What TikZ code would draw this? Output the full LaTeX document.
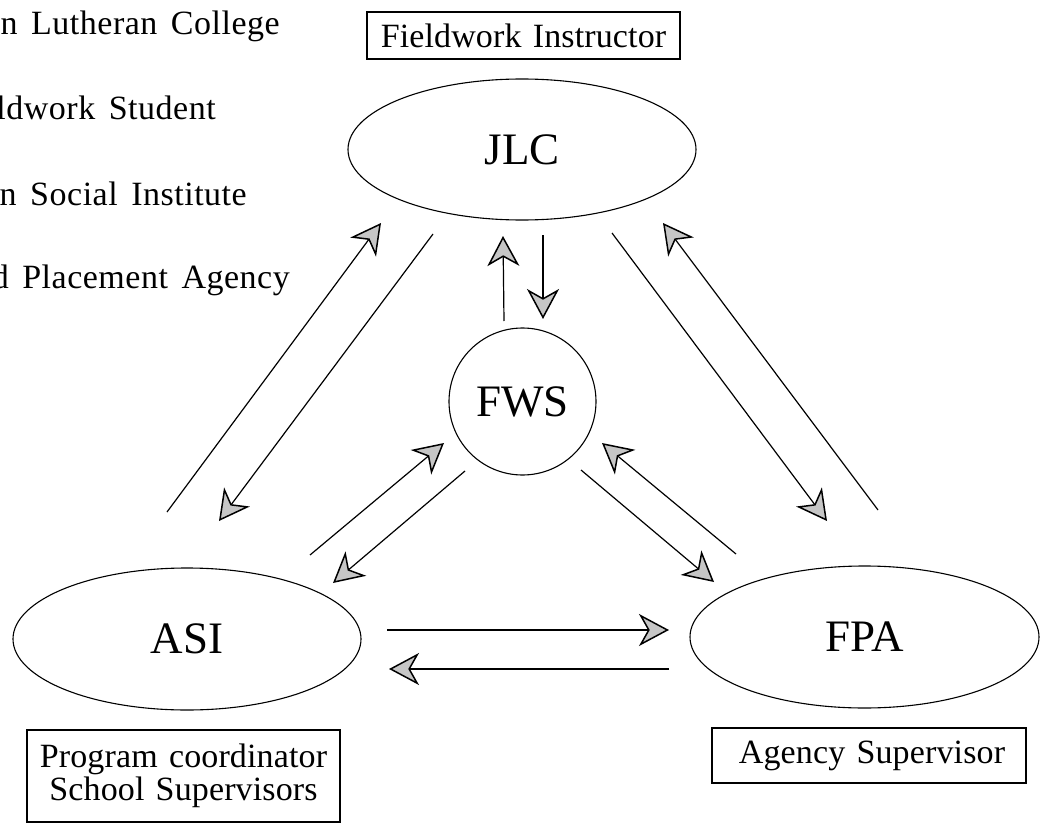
\documentclass[tikz,border=0pt]{standalone}
\usepackage{fontspec}
\setmainfont{Liberation Serif}
\newfontfamily\legendfam[LetterSpace=1.5,WordSpace=1.5]{Liberation Serif}
\newfontfamily\boxfam[LetterSpace=0.4,WordSpace=1.3]{Liberation Serif}
\usetikzlibrary{arrows.meta,shapes.geometric}
\newcommand{\bigfont}{\fontsize{45}{54}\selectfont}
\newcommand{\smallfont}{\boxfam\fontsize{34}{33}\selectfont}
\newcommand{\legendfont}{\legendfam\fontsize{34}{33}\selectfont}
\begin{document}
\begin{tikzpicture}[x=1pt,y=-1pt,
  oval/.style={draw,ellipse,line width=1.1pt,inner sep=0pt,font=\bigfont},
  circ/.style={draw,circle,line width=1.1pt,inner sep=0pt,font=\bigfont},
  rolebox/.style={draw,rectangle,line width=1.1pt,inner sep=0pt,align=center,font=\smallfont},
  legend/.style={anchor=base east,inner sep=0pt,font=\legendfont},
  flow/.style={line width=1.2pt,-{Stealth[length=30pt,width=32pt,inset=9pt,fill=gray!45,line width=1.5pt]}}
]
\useasboundingbox (0,0) rectangle (1042,824);
\clip (0,0) rectangle (1042,824);
\fill[white] (0,0) rectangle (1042,824);

% legend (clipped at left edge, as in the reference)
\node[legend] (l1) at (280,35) {Japan Lutheran College};
\node[legend] (l2) at (216,120) {Fieldwork Student};
\node[legend] (l3) at (247,205) {Asian Social Institute};
\node[legend] (l4) at (290,288) {Field Placement Agency};

% main nodes
\node[oval,minimum width=348pt,minimum height=141pt] (JLC) at (522,149.5) {JLC};
\node[circ,minimum size=147pt] (FWS) at (522.5,401.5) {FWS};
\node[oval,minimum width=348pt,minimum height=142pt] (ASI) at (187,639) {ASI};
\node[oval,minimum width=349pt,minimum height=142pt] (FPA) at (864.5,637) {FPA};

% role boxes
\node[rolebox,minimum width=313pt,minimum height=47pt] (fi) at (523.5,35.5) {Fieldwork Instructor};
\node[rolebox,minimum width=314pt,minimum height=55pt] (as) at (869,755.5) {\hspace{6pt}Agency Supervisor};
\node[rolebox,minimum width=313pt,minimum height=92pt] (pc) at (183.5,776) {Program coordinator\\School Supervisors};

% connector end points
\coordinate (asiJ) at (167,512);   \coordinate (jlcA) at (381,223);
\coordinate (jlcB) at (433,234);   \coordinate (asiB) at (219,521);
\coordinate (asiC) at (310,555);   \coordinate (fwsC) at (444,443);
\coordinate (fwsD) at (465,471);   \coordinate (asiD) at (333,583);
\coordinate (jlcE) at (612,233);   \coordinate (fpaE) at (827,521);
\coordinate (fpaF) at (878,510);   \coordinate (jlcF) at (663,223);
\coordinate (fwsG) at (581,470);   \coordinate (fpaG) at (714,582);
\coordinate (fpaH) at (736,554);   \coordinate (fwsH) at (602,443);
\coordinate (fwsU) at (504,321);   \coordinate (jlcU) at (503,236);
\coordinate (jlcV) at (543,235);   \coordinate (fwsV) at (543,319);
\coordinate (asiR) at (387,630);   \coordinate (fpaR) at (669,630);
\coordinate (fpaL) at (669,669);   \coordinate (asiL) at (389,669);

% connectors
\draw[flow] (asiJ) -- (jlcA);
\draw[flow] (jlcB) -- (asiB);
\draw[flow] (asiC) -- (fwsC);
\draw[flow] (fwsD) -- (asiD);
\draw[flow] (jlcE) -- (fpaE);
\draw[flow] (fpaF) -- (jlcF);
\draw[flow] (fwsG) -- (fpaG);
\draw[flow] (fpaH) -- (fwsH);
\draw[flow] (fwsU) -- (jlcU);
\draw[flow] (jlcV) -- (fwsV);
\draw[flow] (asiR) -- (fpaR);
\draw[flow] (fpaL) -- (asiL);
\end{tikzpicture}
\end{document}
